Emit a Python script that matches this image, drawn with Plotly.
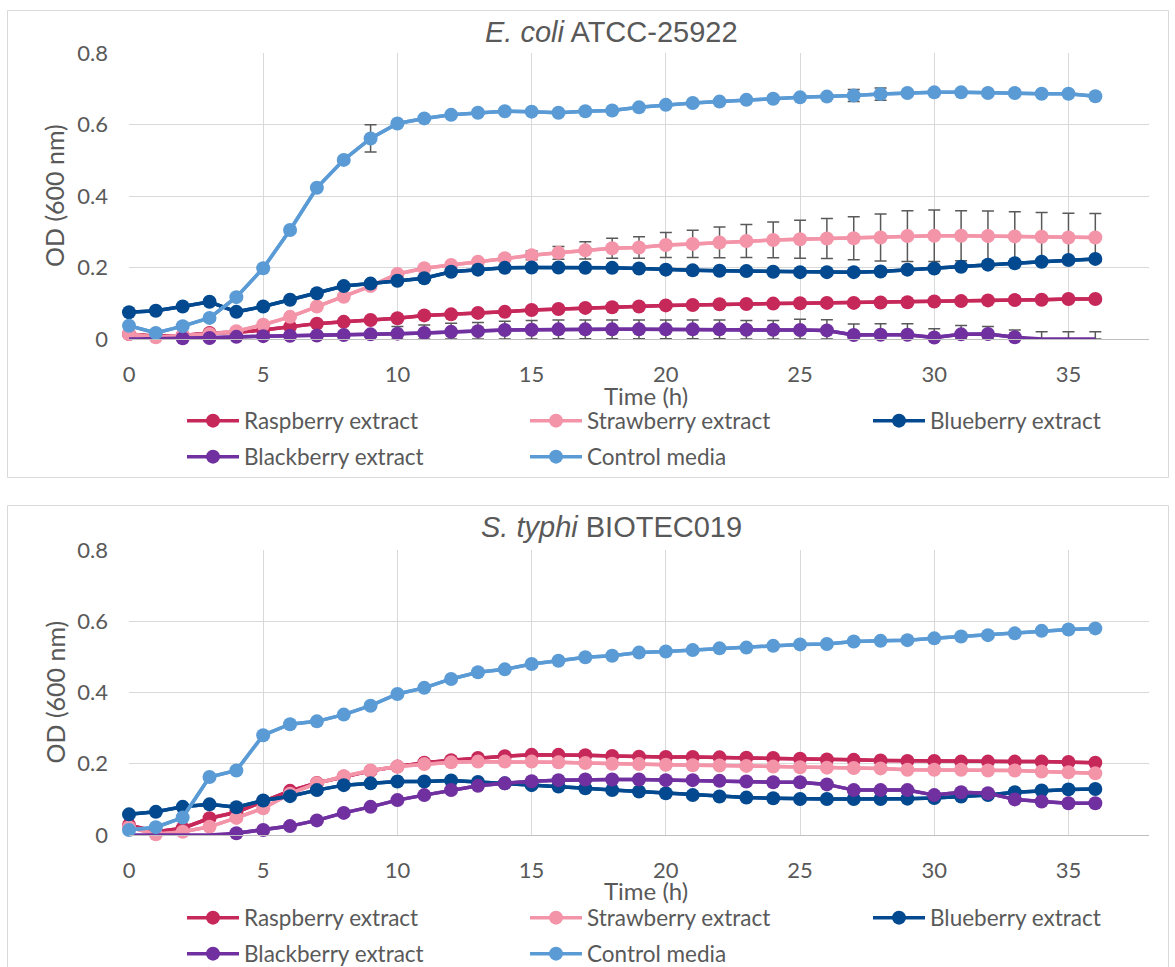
import plotly.graph_objects as go

W, H = 1175, 967

# Sampling times (h)
hours = [0, 1, 2, 3, 4, 5, 6, 7, 8, 9, 10, 11, 12, 13, 14, 15, 16, 17, 18,
         19, 20, 21, 22, 23, 24, 25, 26, 27, 28, 29, 30, 31, 32, 33, 34, 35, 36]

series_names = ["Raspberry extract", "Strawberry extract", "Blueberry extract",
                "Blackberry extract", "Control media"]
series_colors = ["#C6285A", "#F394A9", "#02498F", "#7030A0", "#5B9BD5"]
# legend row (0 = first row, 1 = second row) of each series
legend_rows = [0, 0, 0, 1, 1]

# ---- E. coli ATCC-25922, OD600 ----
ec_raspberry = [0.014, 0.008, 0.010, 0.017, 0.019, 0.025, 0.034, 0.043, 0.048, 0.053,
                0.058, 0.066, 0.069, 0.073, 0.076, 0.081, 0.084, 0.087, 0.089, 0.091,
                0.094, 0.095, 0.097, 0.098, 0.099, 0.100, 0.101, 0.101, 0.102, 0.103,
                0.105, 0.106, 0.108, 0.109, 0.110, 0.112, 0.112]
ec_strawberry = [0.014, 0.005, 0.010, 0.014, 0.022, 0.040, 0.062, 0.091, 0.118, 0.148,
                 0.182, 0.198, 0.207, 0.216, 0.226, 0.234, 0.241, 0.248, 0.254, 0.256,
                 0.263, 0.266, 0.270, 0.274, 0.277, 0.279, 0.281, 0.282, 0.284, 0.288,
                 0.289, 0.289, 0.288, 0.287, 0.286, 0.284, 0.284]
ec_blueberry = [0.075, 0.079, 0.091, 0.104, 0.076, 0.091, 0.110, 0.128, 0.148, 0.155,
                0.163, 0.170, 0.188, 0.194, 0.199, 0.200, 0.200, 0.199, 0.199, 0.197,
                0.194, 0.192, 0.191, 0.190, 0.188, 0.187, 0.187, 0.187, 0.189, 0.194,
                0.197, 0.202, 0.208, 0.212, 0.216, 0.221, 0.224]
ec_blackberry = [-0.004, -0.004, 0.002, 0.003, 0.006, 0.008, 0.009, 0.010, 0.011, 0.013,
                 0.015, 0.017, 0.020, 0.022, 0.025, 0.026, 0.027, 0.027, 0.027, 0.027,
                 0.027, 0.027, 0.027, 0.026, 0.026, 0.025, 0.024, 0.011, 0.012, 0.012,
                 0.004, 0.013, 0.014, 0.005, -0.004, -0.004, -0.004]
ec_control = [0.037, 0.017, 0.036, 0.059, 0.117, 0.198, 0.305, 0.423, 0.501, 0.561,
              0.603, 0.617, 0.627, 0.633, 0.637, 0.636, 0.633, 0.637, 0.639, 0.648,
              0.655, 0.660, 0.664, 0.669, 0.672, 0.676, 0.678, 0.681, 0.685, 0.688,
              0.690, 0.690, 0.688, 0.688, 0.686, 0.686, 0.679]

# standard deviations (E. coli)
ec_strawberry_sd = [0.003, 0.003, 0.003, 0.003, 0.003, 0.003, 0.003, 0.003, 0.003, 0.003,
                    0.004, 0.004, 0.005, 0.006, 0.008, 0.012, 0.018, 0.024, 0.028, 0.030,
                    0.035, 0.038, 0.043, 0.046, 0.050, 0.053, 0.056, 0.060, 0.066, 0.071,
                    0.072, 0.070, 0.070, 0.069, 0.068, 0.068, 0.067]
ec_blackberry_sd = [0.004, 0.004, 0.004, 0.004, 0.004, 0.005, 0.005, 0.005, 0.006, 0.008,
                    0.020, 0.022, 0.024, 0.024, 0.025, 0.026, 0.026, 0.026, 0.026, 0.026,
                    0.026, 0.026, 0.026, 0.026, 0.026, 0.030, 0.030, 0.031, 0.031, 0.031,
                    0.025, 0.025, 0.021, 0.020, 0.024, 0.024, 0.024]
ec_control_sd = [0.003, 0.003, 0.003, 0.003, 0.004, 0.004, 0.005, 0.005, 0.006, 0.038,
                 0.005, 0.004, 0.004, 0.003, 0.003, 0.003, 0.003, 0.003, 0.003, 0.003,
                 0.003, 0.003, 0.004, 0.004, 0.004, 0.004, 0.005, 0.017, 0.017, 0.005,
                 0.004, 0.004, 0.004, 0.004, 0.004, 0.004, 0.004]

# ---- S. typhi BIOTEC019, OD600 ----
st_raspberry = [0.028, 0.009, 0.019, 0.047, 0.064, 0.094, 0.124, 0.146, 0.164, 0.180,
                0.192, 0.203, 0.210, 0.216, 0.221, 0.225, 0.225, 0.224, 0.222, 0.220,
                0.219, 0.219, 0.218, 0.217, 0.216, 0.214, 0.212, 0.211, 0.209, 0.208,
                0.208, 0.206, 0.206, 0.206, 0.206, 0.205, 0.203]
st_strawberry = [0.022, 0.002, 0.009, 0.023, 0.048, 0.075, 0.116, 0.145, 0.165, 0.181,
                 0.192, 0.199, 0.204, 0.206, 0.206, 0.206, 0.204, 0.202, 0.200, 0.199,
                 0.197, 0.196, 0.195, 0.194, 0.192, 0.190, 0.189, 0.188, 0.187, 0.183,
                 0.183, 0.183, 0.181, 0.181, 0.178, 0.176, 0.173]
st_blueberry = [0.058, 0.065, 0.079, 0.086, 0.078, 0.097, 0.109, 0.126, 0.140, 0.145,
                0.150, 0.150, 0.153, 0.149, 0.145, 0.140, 0.136, 0.131, 0.126, 0.122,
                0.117, 0.112, 0.108, 0.105, 0.103, 0.101, 0.101, 0.101, 0.101, 0.102,
                0.104, 0.108, 0.112, 0.120, 0.125, 0.128, 0.129]
st_blackberry = [-0.004, -0.004, -0.004, -0.003, 0.005, 0.014, 0.025, 0.041, 0.062, 0.079,
                 0.098, 0.112, 0.126, 0.138, 0.145, 0.151, 0.154, 0.156, 0.156, 0.156,
                 0.154, 0.154, 0.152, 0.150, 0.148, 0.148, 0.142, 0.126, 0.126, 0.126,
                 0.112, 0.120, 0.117, 0.100, 0.094, 0.089, 0.089]
st_control = [0.014, 0.022, 0.049, 0.163, 0.181, 0.280, 0.311, 0.319, 0.338, 0.363,
              0.396, 0.413, 0.438, 0.457, 0.465, 0.480, 0.489, 0.499, 0.503, 0.512,
              0.515, 0.519, 0.524, 0.526, 0.531, 0.535, 0.536, 0.543, 0.545, 0.547,
              0.552, 0.557, 0.561, 0.566, 0.573, 0.577, 0.580]

panels = [
    {
        "title": "<i>E. coli</i> ATCC-25922",
        "values": [ec_raspberry, ec_strawberry, ec_blueberry, ec_blackberry, ec_control],
        "sd": [None, ec_strawberry_sd, None, ec_blackberry_sd, ec_control_sd],
    },
    {
        "title": "<i>S. typhi</i> BIOTEC019",
        "values": [st_raspberry, st_strawberry, st_blueberry, st_blackberry, st_control],
        "sd": [None, None, None, None, None],
    },
]

TEXT = "#595959"
GRID = "#D9D9D9"
BODY_FONT = "Lato"
TITLE_FONT = "Liberation Sans, Arial"


def px_x(v):
    return v / W


def px_y(v):
    return 1 - v / H


# pixel geometry of the two panels (frame, plot box, titles, legend rows)
layout_px = [
    {"frame": (7.5, 10.5, 1168.5, 477.5), "plot": (129, 53, 1149, 339),
     "title_y": 32, "xtitle_y": 395, "legend_rows": (421, 457)},
    {"frame": (7.5, 505.5, 1168.5, 990), "plot": (129, 550, 1149, 835),
     "title_y": 527, "xtitle_y": 890, "legend_rows": (918, 954)},
]

fig = go.Figure()
shapes, annotations = [], []
layout_extra = {}
legend_count = 0

for p, (panel, geo) in enumerate(zip(panels, layout_px)):
    sfx = "" if p == 0 else str(p + 1)
    xa, ya = "x" + sfx, "y" + sfx

    # one horizontal legend per legend row
    row_ids = []
    for row_y in geo["legend_rows"]:
        legend_count += 1
        lid = "legend" if legend_count == 1 else "legend%d" % legend_count
        row_ids.append(lid)
        layout_extra[lid] = dict(
            orientation="h", x=px_x(182), y=px_y(row_y),
            xanchor="left", yanchor="middle", xref="paper", yref="paper",
            itemwidth=52, entrywidth=276, entrywidthmode="pixels",
            bgcolor="rgba(0,0,0,0)", borderwidth=0,
            font=dict(family=BODY_FONT, size=22.5, color=TEXT),
        )

    for name, color, vals, sd, row in zip(series_names, series_colors,
                                          panel["values"], panel["sd"], legend_rows):
        floor_vals = [max(v, 0.0) for v in vals]
        marked_vals = [v if v >= 0 else None for v in vals]
        err = None
        if sd is not None:
            err = dict(type="data", symmetric=False,
                       array=[v + e - c for v, e, c in zip(vals, sd, floor_vals)],
                       arrayminus=[min(e, c) for e, c in zip(sd, floor_vals)],
                       color="#595959", thickness=1.5, width=6)
        # continuous line (readings below the axis floor sit on it) + error bars
        fig.add_trace(go.Scatter(
            x=hours, y=floor_vals, mode="lines", xaxis=xa, yaxis=ya,
            line=dict(color=color, width=3.5), error_y=err,
            showlegend=False, hoverinfo="skip", cliponaxis=False,
        ))
        # markers for the readings above the floor
        fig.add_trace(go.Scatter(
            x=hours, y=marked_vals, mode="lines+markers", xaxis=xa, yaxis=ya,
            name=name, legend=row_ids[row], connectgaps=False,
            line=dict(color=color, width=3.5),
            marker=dict(size=14, color=color),
            cliponaxis=False,
        ))

    x0, y0, x1, y1 = geo["plot"]
    layout_extra["xaxis" + sfx] = dict(
        domain=[px_x(x0), px_x(x1)], anchor=ya, range=[0, 38], dtick=5, tick0=0,
        showgrid=True, gridcolor=GRID, gridwidth=1, zeroline=False,
        showline=True, linecolor="#BFBFBF", linewidth=1,
        ticks="", ticklabelstandoff=16, automargin=False,
        tickfont=dict(family=BODY_FONT, size=22, color=TEXT),
    )
    layout_extra["yaxis" + sfx] = dict(
        domain=[px_y(y1), px_y(y0)], anchor=xa, range=[0, 0.8], dtick=0.2, tick0=0,
        showgrid=True, gridcolor=GRID, gridwidth=1, zeroline=False,
        showline=False, ticks="", ticklabelstandoff=20, automargin=False,
        tickfont=dict(family=BODY_FONT, size=22, color=TEXT),
    )

    fx0, fy0, fx1, fy1 = geo["frame"]
    shapes.append(dict(type="rect", xref="paper", yref="paper",
                       x0=px_x(fx0), x1=px_x(fx1), y0=px_y(fy1), y1=px_y(fy0),
                       line=dict(color=GRID, width=1), fillcolor="rgba(0,0,0,0)",
                       layer="below"))

    annotations.append(dict(text=panel["title"], xref="paper", yref="paper",
                            x=px_x(611), y=px_y(geo["title_y"]), showarrow=False,
                            xanchor="center", yanchor="middle",
                            font=dict(family=TITLE_FONT, size=29, color=TEXT)))
    annotations.append(dict(text="OD (600 nm)", xref="paper", yref="paper",
                            x=px_x(54), y=px_y((y0 + y1) / 2), showarrow=False,
                            textangle=-90, xanchor="center", yanchor="middle",
                            font=dict(family=BODY_FONT, size=25, color=TEXT)))
    annotations.append(dict(text="Time (h)", xref="paper", yref="paper",
                            x=px_x(646), y=px_y(geo["xtitle_y"]), showarrow=False,
                            xanchor="center", yanchor="middle",
                            font=dict(family=BODY_FONT, size=24, color=TEXT)))

fig.update_layout(
    width=W, height=H, autosize=False,
    margin=dict(l=0, r=0, t=0, b=0, pad=0, autoexpand=False),
    paper_bgcolor="white", plot_bgcolor="white",
    shapes=shapes, annotations=annotations,
    **layout_extra,
)

fig.write_html("out.html")
